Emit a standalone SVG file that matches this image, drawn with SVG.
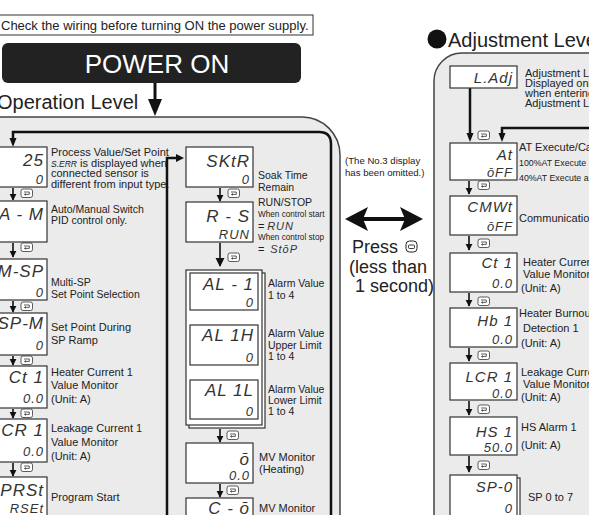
<svg xmlns="http://www.w3.org/2000/svg" xmlns:xlink="http://www.w3.org/1999/xlink" width="589" height="515" viewBox="0 0 589 515">
<style>
.panel{fill:#ebebeb;stroke:#444;stroke-width:1.5}
.box{fill:#fff;stroke:#333;stroke-width:1.2}
.seg{font-family:"Liberation Sans",Arial,sans-serif;font-style:italic;fill:#333;text-anchor:end;letter-spacing:1px}
.s1{font-size:17px}
.s2{font-size:13px}
.s3{font-size:15px}
.s4{font-size:11px}
.d{font-family:"Liberation Sans",Arial,sans-serif;font-size:11px;fill:#222}
.t{font-size:10.5px}
.d10{font-size:9.6px}
.sm{font-size:8.2px}
.sm2{font-size:8.8px}
.loop{fill:none;stroke:#111;stroke-width:2.5}
.arr{fill:none;stroke:#111;stroke-width:1.6}
</style>
<defs>
<marker id="ah" viewBox="0 0 10 10" refX="9" refY="5" markerWidth="7" markerHeight="8" markerUnits="userSpaceOnUse" orient="auto">
<path d="M0,0 L10,5 L0,10 z" fill="#111"/>
</marker>
<marker id="ahb" viewBox="0 0 10 10" refX="9" refY="5" markerWidth="9" markerHeight="10" markerUnits="userSpaceOnUse" orient="auto">
<path d="M0,0 L10,5 L0,10 z" fill="#111"/>
</marker>
<g id="key">
<rect x="0" y="0" width="11.5" height="8.5" rx="2" fill="#fff" stroke="#333" stroke-width="0.8"/>
<path d="M3,3 H8.3 V5.4 H4.6" fill="none" stroke="#333" stroke-width="0.8"/>
<path d="M4.8,4.1 L3,5.4 L4.8,6.7 z" fill="#333"/>
</g>
</defs>

<!-- header -->
<g id="warning">
<rect x="-2" y="15" width="315" height="20" fill="#fff" stroke="#333" stroke-width="1"/>
<text x="1" y="30" font-family="Liberation Sans, Arial, sans-serif" font-size="13" fill="#222">Check the wiring before turning ON the power supply.</text>
</g>
<g id="power-on">
<rect x="2" y="43" width="299" height="40" rx="6" fill="#222"/>
<text x="157" y="73" font-family="Liberation Sans, Arial, sans-serif" font-size="26" fill="#fff" text-anchor="middle">POWER  ON</text>
</g>
<text x="-3" y="109" font-family="Liberation Sans, Arial, sans-serif" font-size="20" fill="#222">Operation Level</text>
<text x="448" y="47" font-family="Liberation Sans, Arial, sans-serif" font-size="20" fill="#222">Adjustment Level</text>
<circle cx="437" cy="39" r="9.5" fill="#111"/>

<!-- panels -->
<path class="panel" d="M-2,117 H302 A38,38 0 0 1 340,155 V517 H-2 Z"/>
<path class="panel" d="M591,53 H462 A28,28 0 0 0 434,81 V517 H591 Z"/>

<!-- connectors -->
<g id="connectors">
<line x1="155" y1="83" x2="155" y2="102" stroke="#111" stroke-width="3"/>
<path d="M148,99 L162,99 L155,116 Z" fill="#111"/>
<path class="loop" d="M331,517 V144 Q331,132 319,132 H13 V139"/>
<path d="M9.5,138 L16.5,138 L13,147 Z" fill="#111"/>
<path class="loop" d="M167,517 V158 H177"/>
<path d="M176,154 L184,158 L176,162 Z" fill="#111"/>
<path class="loop" d="M591,128 H502 V134"/>
<path d="M498.5,133 L505.5,133 L502,142 Z" fill="#111"/>
<line x1="470" y1="88" x2="470" y2="134" stroke="#111" stroke-width="2.5"/>
<path d="M466.5,133 L473.5,133 L470,142 Z" fill="#111"/>
<!-- double arrow -->
<line x1="360" y1="219" x2="408" y2="219" stroke="#111" stroke-width="4"/>
<path d="M345,219 L368,207 L363,219 L368,231 Z" fill="#111"/>
<path d="M423,219 L400,207 L405,219 L400,231 Z" fill="#111"/>
<!-- left column arrows -->
<line class="arr" x1="13" y1="188" x2="13" y2="200" marker-end="url(#ah)"/>
<line class="arr" x1="13" y1="243" x2="13" y2="257" marker-end="url(#ah)"/>
<line class="arr" x1="13" y1="301" x2="13" y2="312" marker-end="url(#ah)"/>
<line class="arr" x1="13" y1="356" x2="13" y2="365" marker-end="url(#ah)"/>
<line class="arr" x1="13" y1="409" x2="13" y2="418" marker-end="url(#ah)"/>
<line class="arr" x1="13" y1="463" x2="13" y2="476" marker-end="url(#ah)"/>
<!-- middle column arrows -->
<line class="arr" x1="220" y1="188" x2="220" y2="201" marker-end="url(#ah)"/>
<line class="arr" x1="220" y1="243" x2="220" y2="266" stroke-width="2.2" marker-end="url(#ahb)"/>
<line class="arr" x1="222" y1="311" x2="222" y2="324" marker-end="url(#ah)"/>
<line class="arr" x1="222" y1="366" x2="222" y2="379" marker-end="url(#ah)"/>
<line class="arr" x1="220" y1="429" x2="220" y2="442" marker-end="url(#ah)"/>
<line class="arr" x1="220" y1="484" x2="220" y2="497" marker-end="url(#ah)"/>
<!-- right column arrows -->
<line class="arr" x1="469" y1="181" x2="469" y2="194" marker-end="url(#ah)"/>
<line class="arr" x1="469" y1="236" x2="469" y2="250" marker-end="url(#ah)"/>
<line class="arr" x1="469" y1="293" x2="469" y2="306" marker-end="url(#ah)"/>
<line class="arr" x1="469" y1="348" x2="469" y2="361" marker-end="url(#ah)"/>
<line class="arr" x1="469" y1="401" x2="469" y2="415" marker-end="url(#ah)"/>
<line class="arr" x1="469" y1="456" x2="469" y2="472" marker-end="url(#ah)"/>
<!-- key icons -->
<use xlink:href="#key" x="21" y="189"/>
<use xlink:href="#key" x="21" y="243"/>
<use xlink:href="#key" x="21" y="302"/>
<use xlink:href="#key" x="21" y="356"/>
<use xlink:href="#key" x="21" y="409"/>
<use xlink:href="#key" x="21" y="463"/>
<use xlink:href="#key" x="228" y="189"/>
<use xlink:href="#key" x="228" y="253"/>
<use xlink:href="#key" x="232" y="313"/>
<use xlink:href="#key" x="232" y="368"/>
<use xlink:href="#key" x="227" y="431"/>
<use xlink:href="#key" x="227" y="486"/>
<use xlink:href="#key" x="478" y="131"/>
<use xlink:href="#key" x="478" y="181"/>
<use xlink:href="#key" x="478" y="239"/>
<use xlink:href="#key" x="478" y="297"/>
<use xlink:href="#key" x="478" y="351"/>
<use xlink:href="#key" x="478" y="405"/>
<use xlink:href="#key" x="478" y="461"/>
</g>

<!-- left column -->
<g id="pv-sp">
<rect class="box" x="-20" y="147" width="67" height="40"/>
<text class="seg s1" x="44" y="166">25</text>
<text class="seg s2" x="44" y="184">0</text>
<text class="d" font-size="9.6"><tspan x="51" y="156">Process Value/Set Point</tspan><tspan x="51" y="166.5"><tspan font-style="italic" font-size="8.5">S.ERR</tspan> is displayed when</tspan><tspan x="51" y="177">connected sensor is</tspan><tspan x="51" y="187.5">different from input type.</tspan></text>
</g>
<g id="a-m">
<rect class="box" x="-20" y="201" width="67" height="41"/>
<text class="seg s1" x="44" y="220">A - M</text>
<text class="d t"><tspan x="51" y="212.5">Auto/Manual Switch</tspan><tspan x="51" y="224">PID control only.</tspan></text>
</g>
<g id="m-sp">
<rect class="box" x="-20" y="259" width="67" height="41"/>
<text class="seg s1" x="44" y="277">M-SP</text>
<text class="seg s2" x="44" y="297">0</text>
<text class="d t"><tspan x="51" y="286">Multi-SP</tspan><tspan x="51" y="298">Set Point Selection</tspan></text>
</g>
<g id="sp-m">
<rect class="box" x="-20" y="313" width="67" height="42"/>
<text class="seg s1" x="44" y="329">SP-M</text>
<text class="seg s2" x="44" y="350">0</text>
<text class="d"><tspan x="51" y="331">Set Point During</tspan><tspan x="51" y="343.5">SP Ramp</tspan></text>
</g>
<g id="ct1">
<rect class="box" x="-20" y="366" width="67" height="42"/>
<text class="seg s1" x="44" y="383">Ct 1</text>
<text class="seg s2" x="44" y="403">0.0</text>
<text class="d"><tspan x="51" y="376">Heater Current 1</tspan><tspan x="51" y="389">Value Monitor</tspan><tspan x="51" y="403">(Unit: A)</tspan></text>
</g>
<g id="lcr1">
<rect class="box" x="-20" y="419" width="67" height="43"/>
<text class="seg s1" x="44" y="436">LCR 1</text>
<text class="seg s2" x="44" y="456">0.0</text>
<text class="d"><tspan x="51" y="432">Leakage Current 1</tspan><tspan x="51" y="446">Value Monitor</tspan><tspan x="51" y="460">(Unit: A)</tspan></text>
</g>
<g id="prst">
<rect class="box" x="-20" y="477" width="67" height="45"/>
<text class="seg s1" x="44" y="496">PRSt</text>
<text class="seg s2" x="44" y="513">RSEt</text>
<text class="d" x="51" y="501">Program Start</text>
</g>

<!-- middle column -->
<g id="sktr">
<rect class="box" x="186" y="147" width="67" height="40"/>
<text class="seg s1" x="250" y="167">SKtR</text>
<text class="seg s2" x="250" y="184">0</text>
<text class="d t"><tspan x="258" y="179">Soak Time</tspan><tspan x="258" y="191">Remain</tspan></text>
</g>
<g id="r-s">
<rect class="box" x="186" y="202" width="67" height="40"/>
<text class="seg s1" x="250" y="222">R - S</text>
<text class="seg s2" x="250" y="239">RUN</text>
<text class="d t" x="258" y="206">RUN/STOP</text>
<text class="d sm" x="258" y="216.5">When control start</text>
<text class="d" x="258" y="229.5">=</text>
<text class="seg s4" x="294" y="229.5">RUN</text>
<text class="d sm" x="258" y="240">When control stop</text>
<text class="d" x="258" y="252.5">=</text>
<text class="seg s4" x="298" y="252.5">StōP</text>
</g>
<g id="alarm-stack">
<rect class="box" x="189" y="273" width="76" height="155"/>
<rect class="box" x="186" y="270" width="76" height="155"/>
</g>
<g id="al-1">
<rect class="box" x="190" y="273" width="68" height="37"/>
<text class="seg s1" x="254" y="290">AL - 1</text>
<text class="seg s2" x="254" y="307">0</text>
<text class="d t"><tspan x="268" y="287">Alarm Value</tspan><tspan x="268" y="299">1 to 4</tspan></text>
</g>
<g id="al-1h">
<rect class="box" x="190" y="325" width="68" height="40"/>
<text class="seg s1" x="254" y="341">AL 1H</text>
<text class="seg s2" x="254" y="362">0</text>
<text class="d t"><tspan x="268" y="337">Alarm Value</tspan><tspan x="268" y="348.5">Upper Limit</tspan><tspan x="268" y="360">1 to 4</tspan></text>
</g>
<g id="al-1l">
<rect class="box" x="190" y="380" width="68" height="39"/>
<text class="seg s1" x="254" y="396">AL 1L</text>
<text class="seg s2" x="254" y="416">0</text>
<text class="d t"><tspan x="268" y="392.5">Alarm Value</tspan><tspan x="268" y="404">Lower Limit</tspan><tspan x="268" y="415">1 to 4</tspan></text>
</g>
<g id="mv-heat">
<rect class="box" x="186" y="443" width="67" height="40"/>
<text class="seg s1" x="250" y="465">ō</text>
<text class="seg s2" x="250" y="480">0.0</text>
<text class="d"><tspan x="259" y="461">MV Monitor</tspan><tspan x="259" y="473">(Heating)</tspan></text>
</g>
<g id="mv-cool">
<rect class="box" x="186" y="498" width="67" height="30"/>
<text class="seg s1" x="250" y="514">C - ō</text>
<text class="d" x="259" y="512">MV Monitor</text>
</g>

<!-- centre notes -->
<g id="notes">
<text class="d d10"><tspan x="345" y="164">(The No.3 display</tspan><tspan x="345" y="176">has been omitted.)</tspan></text>
<text font-family="Liberation Sans, Arial, sans-serif" font-size="18" fill="#222"><tspan x="352" y="253">Press</tspan><tspan x="349" y="273">(less than</tspan><tspan x="355" y="292">1 second)</tspan></text>
<rect x="406" y="241" width="11" height="11" rx="3.5" fill="#fff" stroke="#222" stroke-width="1"/>
<rect x="408.5" y="245" width="6" height="3.5" rx="1" fill="none" stroke="#222" stroke-width="0.9"/>
</g>

<!-- right column -->
<g id="l-adj">
<rect class="box" x="450" y="66" width="67" height="22"/>
<text class="seg s3" x="513" y="83">L.Adj</text>
<text class="d" font-size="9.4"><tspan x="525" y="76.5">Adjustment Level</tspan><tspan x="525" y="86.8">Displayed only</tspan><tspan x="525" y="97.1">when entering</tspan><tspan x="525" y="107.4">Adjustment Level</tspan></text>
</g>
<g id="at">
<rect class="box" x="450" y="143" width="67" height="37"/>
<text class="seg s3" x="513" y="160">At</text>
<text class="seg s2" x="513" y="177">ōFF</text>
<text class="d"><tspan x="519" y="151">AT Execute/Cancel</tspan></text>
<text class="d sm2" x="519" y="166">100%AT Execute</text>
<text class="d sm2" x="519" y="181">40%AT Execute a</text>
</g>
<g id="cmwt">
<rect class="box" x="450" y="196" width="67" height="39"/>
<text class="seg s3" x="513" y="212">CMWt</text>
<text class="seg s2" x="513" y="231">ōFF</text>
<text class="d" x="519" y="222">Communication</text>
</g>
<g id="ct1-adj">
<rect class="box" x="450" y="253" width="67" height="39"/>
<text class="seg s3" x="513" y="268">Ct 1</text>
<text class="seg s2" x="513" y="288">0.0</text>
<text class="d"><tspan x="523" y="266">Heater Current</tspan><tspan x="523" y="277.5">Value Monitor</tspan><tspan x="521" y="292">(Unit: A)</tspan></text>
</g>
<g id="hb1">
<rect class="box" x="450" y="308" width="67" height="39"/>
<text class="seg s3" x="513" y="326">Hb 1</text>
<text class="seg s2" x="513" y="344">0.0</text>
<text class="d"><tspan x="519" y="317">Heater Burnout</tspan><tspan x="523" y="332">Detection 1</tspan><tspan x="521" y="347">(Unit: A)</tspan></text>
</g>
<g id="lcr1-adj">
<rect class="box" x="450" y="363" width="67" height="37"/>
<text class="seg s3" x="513" y="382">LCR 1</text>
<text class="seg s2" x="513" y="398">0.0</text>
<text class="d"><tspan x="521" y="376">Leakage Current</tspan><tspan x="523" y="387.5">Value Monitor</tspan><tspan x="521" y="401">(Unit: A)</tspan></text>
</g>
<g id="hs1">
<rect class="box" x="450" y="417" width="67" height="38"/>
<text class="seg s3" x="513" y="437">HS 1</text>
<text class="seg s2" x="513" y="452">50.0</text>
<text class="d"><tspan x="521" y="431">HS Alarm 1</tspan><tspan x="521" y="449">(Unit: A)</tspan></text>
</g>
<g id="sp-0">
<rect class="box" x="453" y="478" width="67" height="50"/>
<rect class="box" x="450" y="475" width="67" height="50"/>
<text class="seg s3" x="513" y="492">SP-0</text>
<text class="seg s2" x="513" y="513">0</text>
<text class="d" x="528" y="501">SP 0 to 7</text>
</g>
</svg>
